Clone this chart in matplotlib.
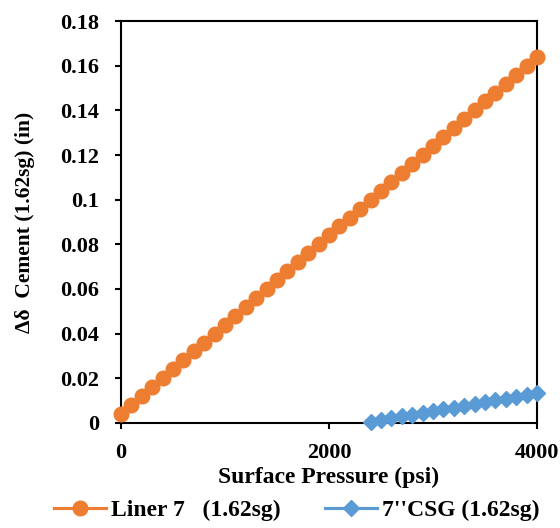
import matplotlib
matplotlib.use("Agg")
import matplotlib.pyplot as plt

pressure_liner = [0, 100, 200, 300, 400, 500, 600, 700, 800, 900, 1000, 1100, 1200, 1300,
                  1400, 1500, 1600, 1700, 1800, 1900, 2000, 2100, 2200, 2300, 2400, 2500,
                  2600, 2700, 2800, 2900, 3000, 3100, 3200, 3300, 3400, 3500, 3600, 3700,
                  3800, 3900, 4000]
cement_liner = [0.004, 0.008, 0.012, 0.016, 0.020, 0.024, 0.028, 0.032, 0.036, 0.040,
                0.044, 0.048, 0.052, 0.056, 0.060, 0.064, 0.068, 0.072, 0.076, 0.080,
                0.084, 0.088, 0.092, 0.096, 0.100, 0.104, 0.108, 0.112, 0.116, 0.120,
                0.124, 0.128, 0.132, 0.136, 0.140, 0.144, 0.148, 0.152, 0.156, 0.160,
                0.164]
pressure_csg = [2400, 2500, 2600, 2700, 2800, 2900, 3000, 3100, 3200, 3300, 3400, 3500,
                3600, 3700, 3800, 3900, 4000]
cement_csg = [0.0005, 0.0013, 0.0021, 0.0029, 0.0037, 0.0045, 0.0053, 0.0061, 0.0069,
              0.0077, 0.0085, 0.0093, 0.0101, 0.0109, 0.0117, 0.0125, 0.0133]

series_labels = ["Liner 7   (1.62sg)", "7''CSG (1.62sg)"]
x_ticks = [0, 2000, 4000]
y_ticks = [0, 0.02, 0.04, 0.06, 0.08, 0.1, 0.12, 0.14, 0.16, 0.18]
y_tick_labels = ["0", "0.02", "0.04", "0.06", "0.08", "0.1", "0.12", "0.14", "0.16", "0.18"]

plt.rcParams['font.family'] = ['Liberation Serif', 'DejaVu Serif']
plt.rcParams['font.weight'] = 'bold'

fig = plt.figure(figsize=(5.6, 5.28), dpi=100)
ax = fig.add_axes([0.216, 0.199, 0.743, 0.761])

ax.plot(pressure_liner, cement_liner, color='#ED7D31', marker='o', markersize=10.5,
        linewidth=2.25, label=series_labels[0], zorder=3, clip_on=False)
ax.plot(pressure_csg, cement_csg, color='#5B9BD5', marker='D', markersize=8.5,
        linewidth=2.25, label=series_labels[1], zorder=3, clip_on=False)

ax.set_xlim(0, 4000)
ax.set_ylim(0, 0.18)
ax.set_xticks(x_ticks)
ax.set_xticklabels([str(v) for v in x_ticks])
ax.set_yticks(y_ticks)
ax.set_yticklabels(y_tick_labels)
ax.tick_params(axis='both', direction='out', length=4.5, width=1.5, labelsize=16)
ax.tick_params(axis='x', pad=10)
ax.tick_params(axis='y', pad=11)
for lab in ax.get_xticklabels() + ax.get_yticklabels():
    lab.set_fontweight('bold')
for sp in ax.spines.values():
    sp.set_linewidth(1.5)

ax.set_xlabel("Surface Pressure (psi)", fontsize=17, fontweight='bold', labelpad=3)
ax.set_ylabel("\u0394\u03b4  Cement (1.62sg) (in)", fontsize=15.5, fontweight='bold', labelpad=18)

leg = fig.legend(loc='center', bbox_to_anchor=(0.53, 0.034), ncol=2, frameon=False,
                 prop={'size': 17, 'weight': 'bold'}, handlelength=2.2, columnspacing=1.9,
                 handletextpad=0.2, borderpad=0, borderaxespad=0)

fig.savefig("out.png", dpi=100)
